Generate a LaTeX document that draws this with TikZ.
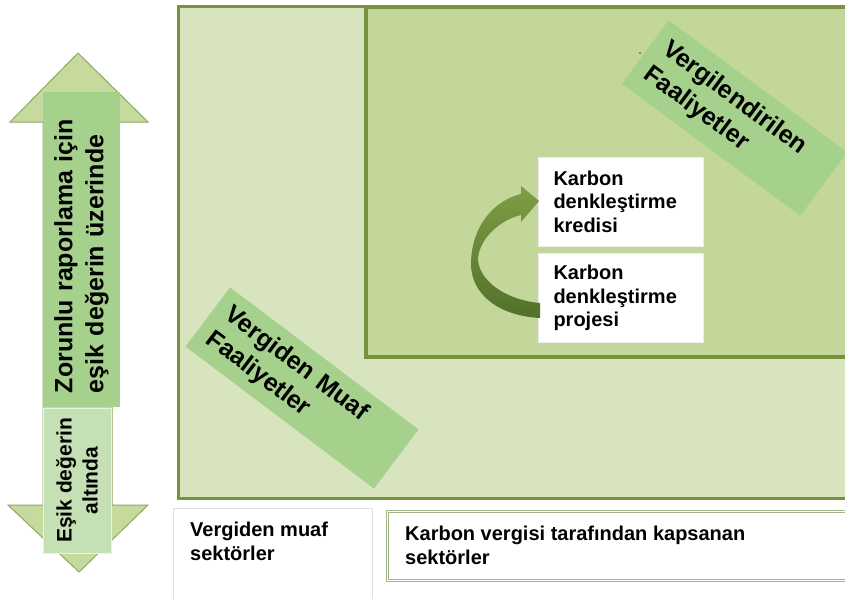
\documentclass[tikz,border=0pt]{standalone}
\usepackage{fontspec}
\setmainfont{Liberation Sans}
\definecolor{outerfill}{HTML}{D7E4BD}
\definecolor{innerfill}{HTML}{C4D79B}
\definecolor{olivedark}{HTML}{76923C}
\definecolor{bandgreen}{HTML}{A6D18C}
\definecolor{headfill}{HTML}{C6DA9E}
\definecolor{headline}{HTML}{8FA863}
\definecolor{lowbox}{HTML}{C5E0B4}
\definecolor{arrowtop}{HTML}{7E9E45}
\definecolor{arrowbot}{HTML}{53702A}
\definecolor{boxline}{HTML}{A3B38A}
\newcommand\fsz[2]{\fontsize{#1}{#2}\selectfont}
\tikzset{
  region/.style={anchor=north west, draw=olivedark, inner sep=0pt},
  bandbox/.style={fill=bandgreen, inner ysep=0pt, align=left, font=\fsz{25}{31}\bfseries},
  whitebox/.style={fill=white, draw=gray!15, inner ysep=0pt, align=left, font=\fsz{20}{23.5}\bfseries},
  bottomtext/.style={anchor=north west, inner sep=0pt, align=left, font=\fsz{20}{24}\bfseries},
}
\begin{document}
\begin{tikzpicture}[x=1pt,y=-1pt]
\useasboundingbox (0,0) rectangle (845,598);
\fill[white] (0,0) rectangle (845,598);
\clip (0,0) rectangle (845,598);

% regions
\node (outer) [region, fill=outerfill, line width=3pt, minimum width=700pt, minimum height=492pt] at (177,5) {};
\node (inner) [region, fill=innerfill, line width=3.5pt, minimum width=520pt, minimum height=350pt] at (364,5) {};

% diagonal bands
\node (taxed) [bandbox, rotate=-36.5, minimum width=222pt, minimum height=79pt, text width=196pt, inner xsep=13pt] at (734.5,118) {Vergilendirilen\\Faaliyetler};
\node (exempt) [bandbox, rotate=-37, minimum width=236pt, minimum height=74pt, text width=210pt, inner xsep=13pt] at (302,388) {Vergiden Muaf\\Faaliyetler};
\fill[black!60] (640,53) circle (1.2);

% left double arrow
\draw[draw=headline, fill=headfill, line width=1pt]
  (78,53) -- (148,122) -- (112,122) -- (112,505) -- (148,505) -- (79,572)
  -- (8,505) -- (43,505) -- (43,122) -- (10,122) -- cycle;
\node (above) [fill=bandgreen, rotate=90, minimum width=315pt, minimum height=77pt,
  text width=287pt, inner xsep=14pt, inner ysep=0pt, align=left, font=\fsz{25}{31}\bfseries]
  at (81.5,249.5) {Zorunlu raporlama için\\eşik değerin üzerinde};
\node (below) [fill=lowbox, draw=white!60!lowbox, rotate=90, minimum width=145pt, minimum height=68pt,
  inner sep=0pt, align=center, font=\fsz{21}{26}\bfseries]
  at (77,480.5) {Eşik değerin\\altında};

% carbon offset boxes
\node (credit) [whitebox, minimum width=165pt, minimum height=89pt, text width=135pt, inner xsep=15pt] at (621,201.5) {Karbon\\denkleştirme\\kredisi};
\node (project) [whitebox, minimum width=165pt, minimum height=89pt, text width=135pt, inner xsep=15pt] at (621,298) {Karbon\\denkleştirme\\projesi};

% curved ribbon arrow from project to credit
\shade[top color=arrowtop, bottom color=arrowbot]
  (540,318) .. controls (500,316) and (470,295) .. (471,262)
  .. controls (472,225) and (495,200) .. (521,194)
  -- (521,186) -- (539,201) -- (521,222) -- (521,215)
  .. controls (500,220) and (480,238) .. (478,258)
  .. controls (478,280) and (505,300) .. (540,303) -- cycle;

% bottom sector boxes
\node (exemptbox) [anchor=north west, fill=white, draw=gray!25, line width=1pt, inner sep=0pt, minimum width=199pt, minimum height=120pt] at (173,508) {};
\node (exempttext) [bottomtext] at ([shift={(17,14)}]exemptbox.north west) {Vergiden muaf\\sektörler};
\node (coveredbox) [anchor=north west, fill=white, draw=boxline, line width=1pt, double=white, double distance=1.2pt, inner sep=0pt, minimum width=480pt, minimum height=69pt] at (387,511) {};
\node (coveredtext) [bottomtext] at ([shift={(18,15)}]coveredbox.north west) {Karbon vergisi tarafından kapsanan\\sektörler};
\end{tikzpicture}
\end{document}
